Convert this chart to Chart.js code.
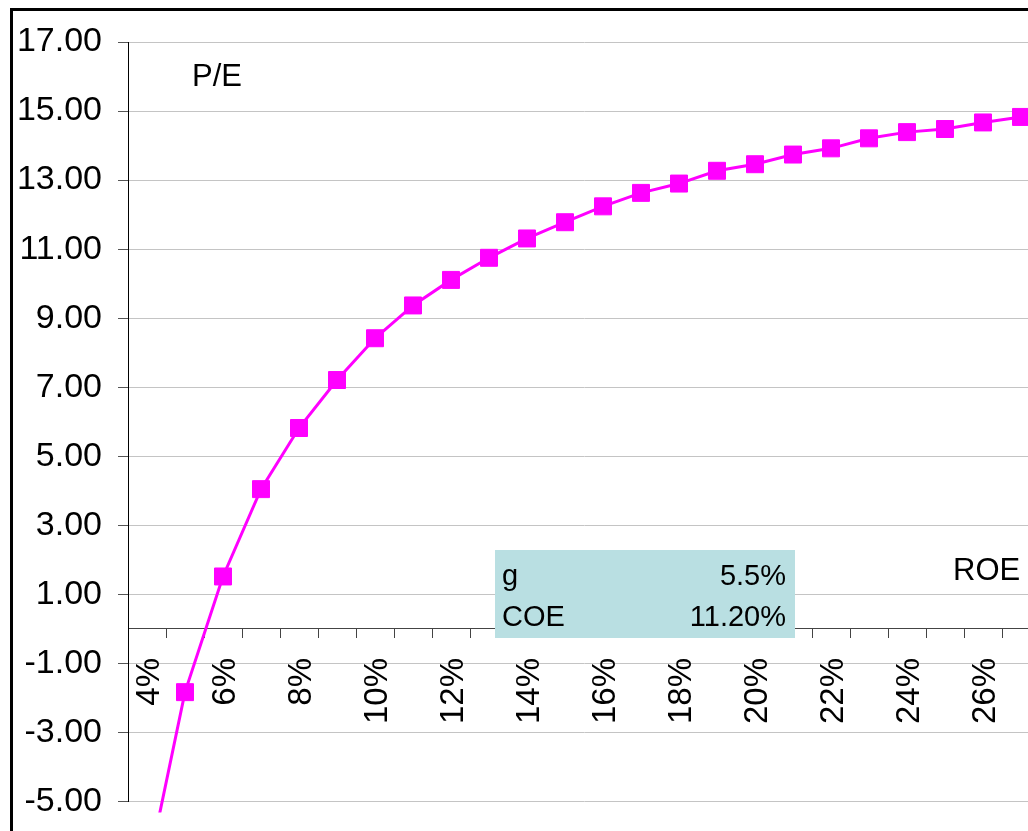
<!DOCTYPE html>
<html>
<head>
<meta charset="utf-8">
<script src="https://cdn.jsdelivr.net/npm/chart.js@4/dist/chart.umd.min.js"></script>
<style>
  html, body { margin: 0; padding: 0; background: #fff; overflow: hidden; width: 1028px; height: 831px; }
  #wrap { position: relative; width: 1028px; height: 831px; overflow: hidden; }
  canvas { position: absolute; left: 0; top: 0; }
</style>
</head>
<body>
<div id="wrap"><canvas id="c" width="1081" height="838"></canvas></div>
<script>
// Return on equity (category axis)
const roeLabels = ['4%','5%','6%','7%','8%','9%','10%','11%','12%','13%','14%','15%',
                   '16%','17%','18%','19%','20%','21%','22%','23%','24%','25%','26%','27%'];
// Price / earnings ratio for each ROE
const peValues = [-7.1, -1.83, 1.52, 4.05, 5.82, 7.21, 8.42, 9.37, 10.11, 10.75, 11.31, 11.78,
                  12.24, 12.63, 12.90, 13.27, 13.46, 13.74, 13.92, 14.21, 14.39, 14.48, 14.67, 14.83];
// Model inputs shown in the info box
const inputRows = [['g', '5.5%'], ['COE', '11.20%']];
const yMin = -5, yMax = 17, yStep = 2;

const FONT = "'Liberation Sans', Arial, sans-serif";

const overlay = {
  id: 'overlay',
  afterDraw(chart) {
    const ctx = chart.ctx;
    ctx.save();
    // outer frame (top and left edges)
    ctx.strokeStyle = '#000';
    ctx.lineWidth = 3;
    ctx.beginPath();
    ctx.moveTo(11.5, chart.height);
    ctx.lineTo(11.5, 9.5);
    ctx.lineTo(chart.width, 9.5);
    ctx.stroke();

    // axis titles
    ctx.fillStyle = '#000';
    ctx.textBaseline = 'alphabetic';
    ctx.font = '31px ' + FONT;
    ctx.textAlign = 'left';
    ctx.fillText('P/E', 192, 86);
    ctx.fillText('ROE', 953, 580);

    // inputs box
    ctx.fillStyle = '#B9DFE2';
    ctx.fillRect(495, 550, 300, 88);
    ctx.fillStyle = '#000';
    ctx.font = '29px ' + FONT;
    inputRows.forEach((row, i) => {
      const base = 585 + i * 41;
      ctx.textAlign = 'left';
      ctx.fillText(row[0], 502, base);
      ctx.textAlign = 'right';
      ctx.fillText(row[1], 786, base);
    });
    ctx.restore();
  }
};

new Chart(document.getElementById('c'), {
  type: 'line',
  data: {
    labels: roeLabels,
    datasets: [{
      data: peValues,
      borderColor: '#FF00FF',
      backgroundColor: '#FF00FF',
      borderWidth: 3,
      tension: 0,
      pointStyle: 'rect',
      pointRadius: 12,
      pointBorderWidth: 1,
      pointBorderColor: '#FF00FF',
      pointBackgroundColor: '#FF00FF',
      clip: { left: 0, top: 0, right: 0, bottom: 11 }
    }]
  },
  options: {
    responsive: false,
    animation: false,
    events: [],
    layout: { padding: { top: 42, left: 0, right: 19, bottom: 31 } },
    plugins: { legend: { display: false }, tooltip: { enabled: false } },
    scales: {
      x: {
        type: 'category',
        position: { y: 0 },
        offset: true,
        grid: {
          offset: true,
          drawOnChartArea: false,
          drawTicks: true,
          tickLength: 9,
          tickColor: '#444',
          tickWidth: 1
        },
        border: { display: true, color: '#444', width: 1 },
        ticks: {
          autoSkip: false,
          minRotation: 90,
          maxRotation: 90,
          padding: 20,
          labelOffset: 3,
          color: '#000',
          font: { family: FONT, size: 33 },
          callback: function (val, idx) { return idx % 2 === 0 ? roeLabels[idx] : ''; }
        }
      },
      y: {
        min: yMin,
        max: yMax,
        afterFit(scale) { scale.width = 128; },
        grid: {
          color: '#c4c4c4',
          lineWidth: 1,
          drawTicks: true,
          tickLength: 10,
          tickColor: '#555'
        },
        border: { display: true, color: '#000', width: 1 },
        ticks: {
          stepSize: yStep,
          padding: 16,
          color: '#000',
          font: { family: FONT, size: 34 },
          callback: (v) => Number(v).toFixed(2)
        }
      }
    }
  },
  plugins: [overlay]
});
</script>
</body>
</html>
